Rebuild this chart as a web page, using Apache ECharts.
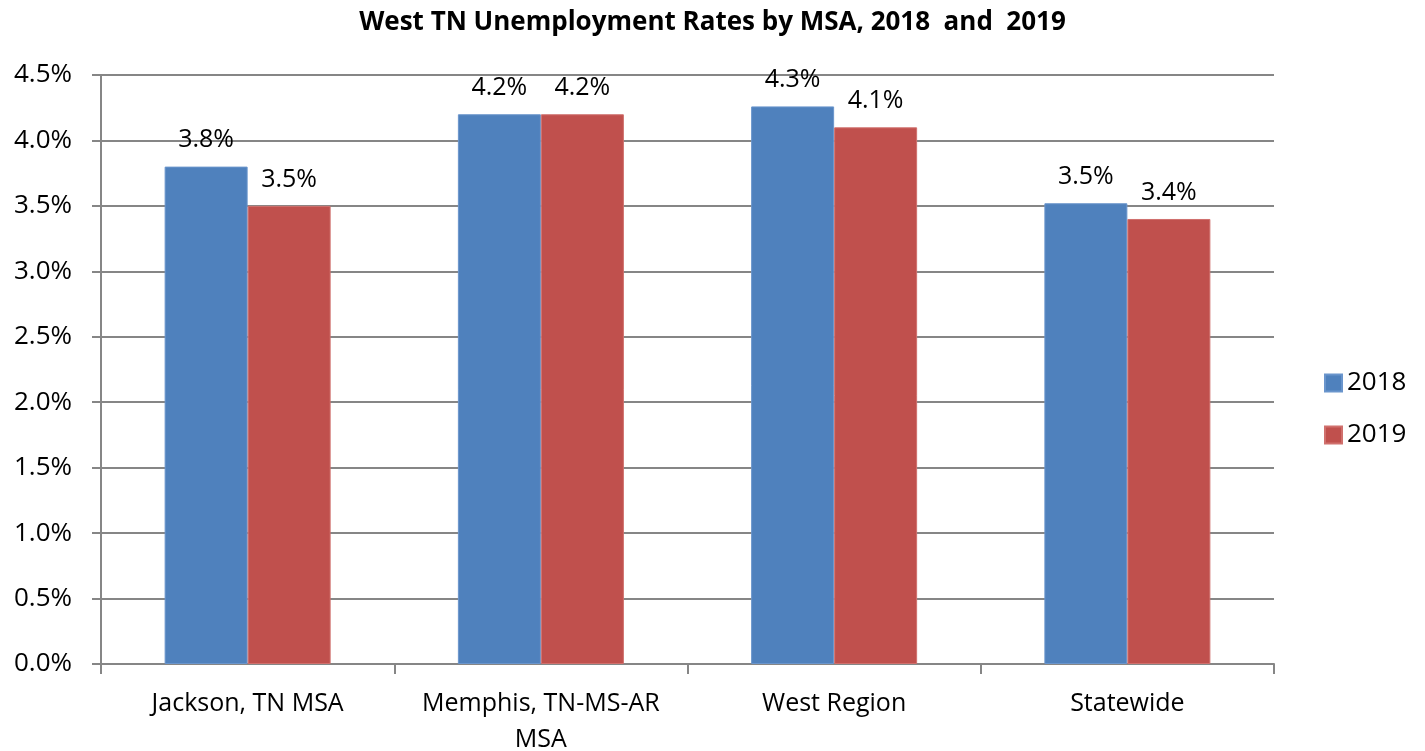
<!DOCTYPE html>
<html>
<head>
<meta charset="utf-8">
<script src="https://cdn.jsdelivr.net/npm/echarts@6/dist/echarts.min.js"></script>
<style>
    html, body { margin: 0; padding: 0; background: #fff; }
    #main { width: 1425px; height: 751px; }
</style>
</head>
<body>
<div id="main"></div>
<script>
// 数据
var categories = ['Jackson, TN MSA', 'Memphis, TN-MS-AR\nMSA', 'West Region', 'Statewide'];
var rate2018 = [3.8, 4.2, 4.26, 3.52];
var rate2019 = [3.5, 4.2, 4.1, 3.4];
var yTicks = [0, 0.5, 1.0, 1.5, 2.0, 2.5, 3.0, 3.5, 4.0, 4.5];

var font = '"Open Sans", "Noto Sans", sans-serif';
var chart = echarts.init(document.getElementById('main'));

var labelOpt = {
    show: true,
    position: 'top',
    distance: 14,
    fontFamily: font,
    fontSize: 25,
    color: '#000',
    formatter: function (p) { return p.value.toFixed(1) + '%'; }
};

chart.setOption({
    animation: false,
    textStyle: { fontFamily: font },
    title: {
        text: 'West TN Unemployment Rates by MSA, 2018  and  2019',
        left: 'center',
        top: 5,
        textStyle: { fontFamily: font, fontSize: 26, fontWeight: 'bold', color: '#000' }
    },
    legend: {
        orient: 'vertical',
        left: 1319,
        top: 365,
        itemWidth: 17,
        itemHeight: 17,
        itemGap: 26,
        icon: 'rect',
        textStyle: { fontFamily: font, fontSize: 26, color: '#000' },
        data: ['2018', '2019']
    },
    grid: { left: 101, right: 151, top: 75, bottom: 87, containLabel: false, outerBoundsMode: 'none' },
    xAxis: {
        type: 'category',
        data: categories,
        axisLine: { lineStyle: { color: '#868686', width: 2 } },
        axisTick: { show: true, interval: 0, length: 10, lineStyle: { color: '#868686', width: 2 } },
        axisLabel: { interval: 0, fontFamily: font, fontSize: 25, color: '#000', margin: 22, lineHeight: 36 }
    },
    yAxis: {
        type: 'value',
        min: yTicks[0],
        max: yTicks[yTicks.length - 1],
        interval: 0.5,
        axisLine: { show: true, lineStyle: { color: '#868686', width: 2 } },
        axisTick: { show: true, length: 9, lineStyle: { color: '#868686', width: 2 } },
        splitLine: { lineStyle: { color: '#868686', width: 2 } },
        axisLabel: {
            fontFamily: font, fontSize: 26, color: '#000', margin: 29,
            formatter: function (v) { return v.toFixed(1) + '%'; }
        }
    },
    series: [{
        name: '2018',
        type: 'bar',
        data: rate2018,
        barWidth: 83,
        barGap: '0%',
        itemStyle: { color: '#4F81BD', borderColor: '#6A95CC', borderWidth: 1 },
        label: labelOpt
    }, {
        name: '2019',
        type: 'bar',
        data: rate2019,
        barWidth: 83,
        barGap: '0%',
        itemStyle: { color: '#C0504D', borderColor: '#D0706D', borderWidth: 1 },
        label: labelOpt
    }]
});
</script>
</body>
</html>
